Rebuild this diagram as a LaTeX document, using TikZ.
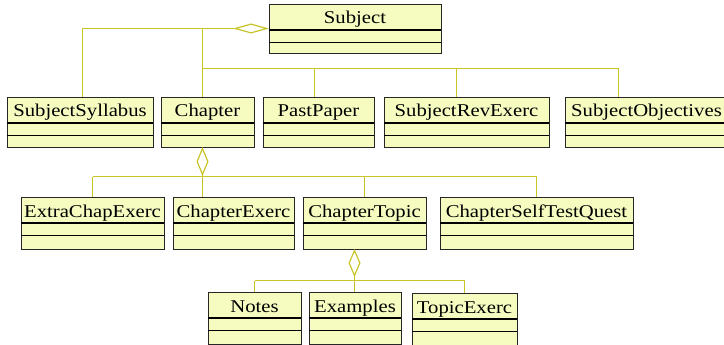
\documentclass[tikz,border=0pt]{standalone}
\usepackage{fontspec}
\setmainfont{Liberation Serif}[FakeStretch=1.15]
\usetikzlibrary{arrows.meta}
\definecolor{classfill}{RGB}{246,252,192}
\definecolor{assoc}{RGB}{200,196,40}
\tikzset{
  classbox/.style={draw=black!85, fill=classfill, line width=0.9pt, inner sep=0pt, outer sep=0pt},
  classtitle/.style={anchor=base, inner sep=0pt, text=black, font=\fontsize{18}{20}\selectfont},
  sepline/.style={line width=1.6pt, color=black},
  conn/.style={draw=assoc, line width=1.2pt},
  subjagg/.style={{Diamond[open,length=36pt,width=10pt]}-},
  partagg/.style={{Diamond[open,length=#1,width=12pt]}-},
  partagg/.default=29pt,
}
% class box: name, x1, y1, x2, y2, title
\newcommand\umlclass[6]{%
  \node[classbox, minimum width={(#4-#2)*1pt}, minimum height={(#5-#3)*1pt}] (#1) at ({(#2+#4)/2},{(#3+#5)/2}) {};
  \draw[sepline] ([yshift=-26pt]#1.north west) -- ([yshift=-26pt]#1.north east);
  \draw[sepline] ([yshift=-38.5pt]#1.north west) -- ([yshift=-38.5pt]#1.north east);
  \node[classtitle] (#1-title) at ([yshift=-20pt]#1.north) {#6};
}
\begin{document}
\begin{tikzpicture}[x=1pt,y=-1pt]
\useasboundingbox (0,0) rectangle (724,345);
\clip (0,0) rectangle (724,345);

% classes
\umlclass{Subject}{269}{4}{441}{53}{Subject}
\umlclass{SubjectSyllabus}{7}{97}{153}{147}{SubjectSyllabus}
\umlclass{Chapter}{161}{97}{254}{147}{Chapter}
\umlclass{PastPaper}{263}{97}{374}{147}{PastPaper}
\umlclass{SubjectRevExerc}{384}{97}{549}{147}{SubjectRevExerc}
\umlclass{SubjectObjectives}{565}{97}{728}{147}{SubjectObjectives}
\umlclass{ExtraChapExerc}{21}{197}{164}{249}{ExtraChapExerc}
\umlclass{ChapterExerc}{173}{197}{294}{249}{ChapterExerc}
\umlclass{ChapterTopic}{303}{197}{426}{249}{ChapterTopic}
\umlclass{ChapterSelfTestQuest}{440}{197}{633}{249}{ChapterSelfTestQuest}
\umlclass{Notes}{208}{292}{301}{344}{Notes}
\umlclass{Examples}{309}{292}{401}{344}{Examples}
\umlclass{TopicExerc}{412}{293}{517}{345}{TopicExerc}

% junction points
\coordinate (s-left) at (82.5,28.5);
\coordinate (s-j) at (202.5,28.5);
\coordinate (s-bus) at (202.5,68.5);
\coordinate (s-pp) at (314.5,68.5);
\coordinate (s-re) at (456.5,68.5);
\coordinate (s-so) at (618.5,68.5);
\coordinate (c-hub) at (202.5,176.5);
\coordinate (t-hub) at (354.5,280.5);

% Subject aggregation
\draw[conn, subjagg] (Subject.west) -- (s-left) -- (s-left |- SubjectSyllabus.north);
\draw[conn] (s-j) -- (Chapter.north -| s-j);
\draw[conn] (s-bus) -- (s-so);
\draw[conn] (s-so) -- (s-so |- SubjectObjectives.north);
\draw[conn] (s-pp) -- (s-pp |- PastPaper.north);
\draw[conn] (s-re) -- (s-re |- SubjectRevExerc.north);

% Chapter aggregation
\draw[conn, partagg] (Chapter.south -| c-hub) -- (c-hub);
\draw[conn] (c-hub) -- (c-hub |- ChapterExerc.north);
\draw[conn] (c-hub -| ExtraChapExerc.north) -- (c-hub -| ChapterSelfTestQuest.north);
\draw[conn] (c-hub -| ExtraChapExerc.north) -- (ExtraChapExerc.north);
\draw[conn] (c-hub -| ChapterTopic.north) -- (ChapterTopic.north);
\draw[conn] (c-hub -| ChapterSelfTestQuest.north) -- (ChapterSelfTestQuest.north);

% ChapterTopic aggregation
\draw[conn, partagg=28pt] (ChapterTopic.south -| t-hub) -- (t-hub);
\draw[conn] (t-hub) -- (t-hub |- Examples.north);
\draw[conn] (t-hub -| Notes.north) -- (t-hub -| TopicExerc.north);
\draw[conn] (t-hub -| Notes.north) -- (Notes.north);
\draw[conn] (t-hub -| TopicExerc.north) -- (TopicExerc.north);
\end{tikzpicture}
\end{document}
